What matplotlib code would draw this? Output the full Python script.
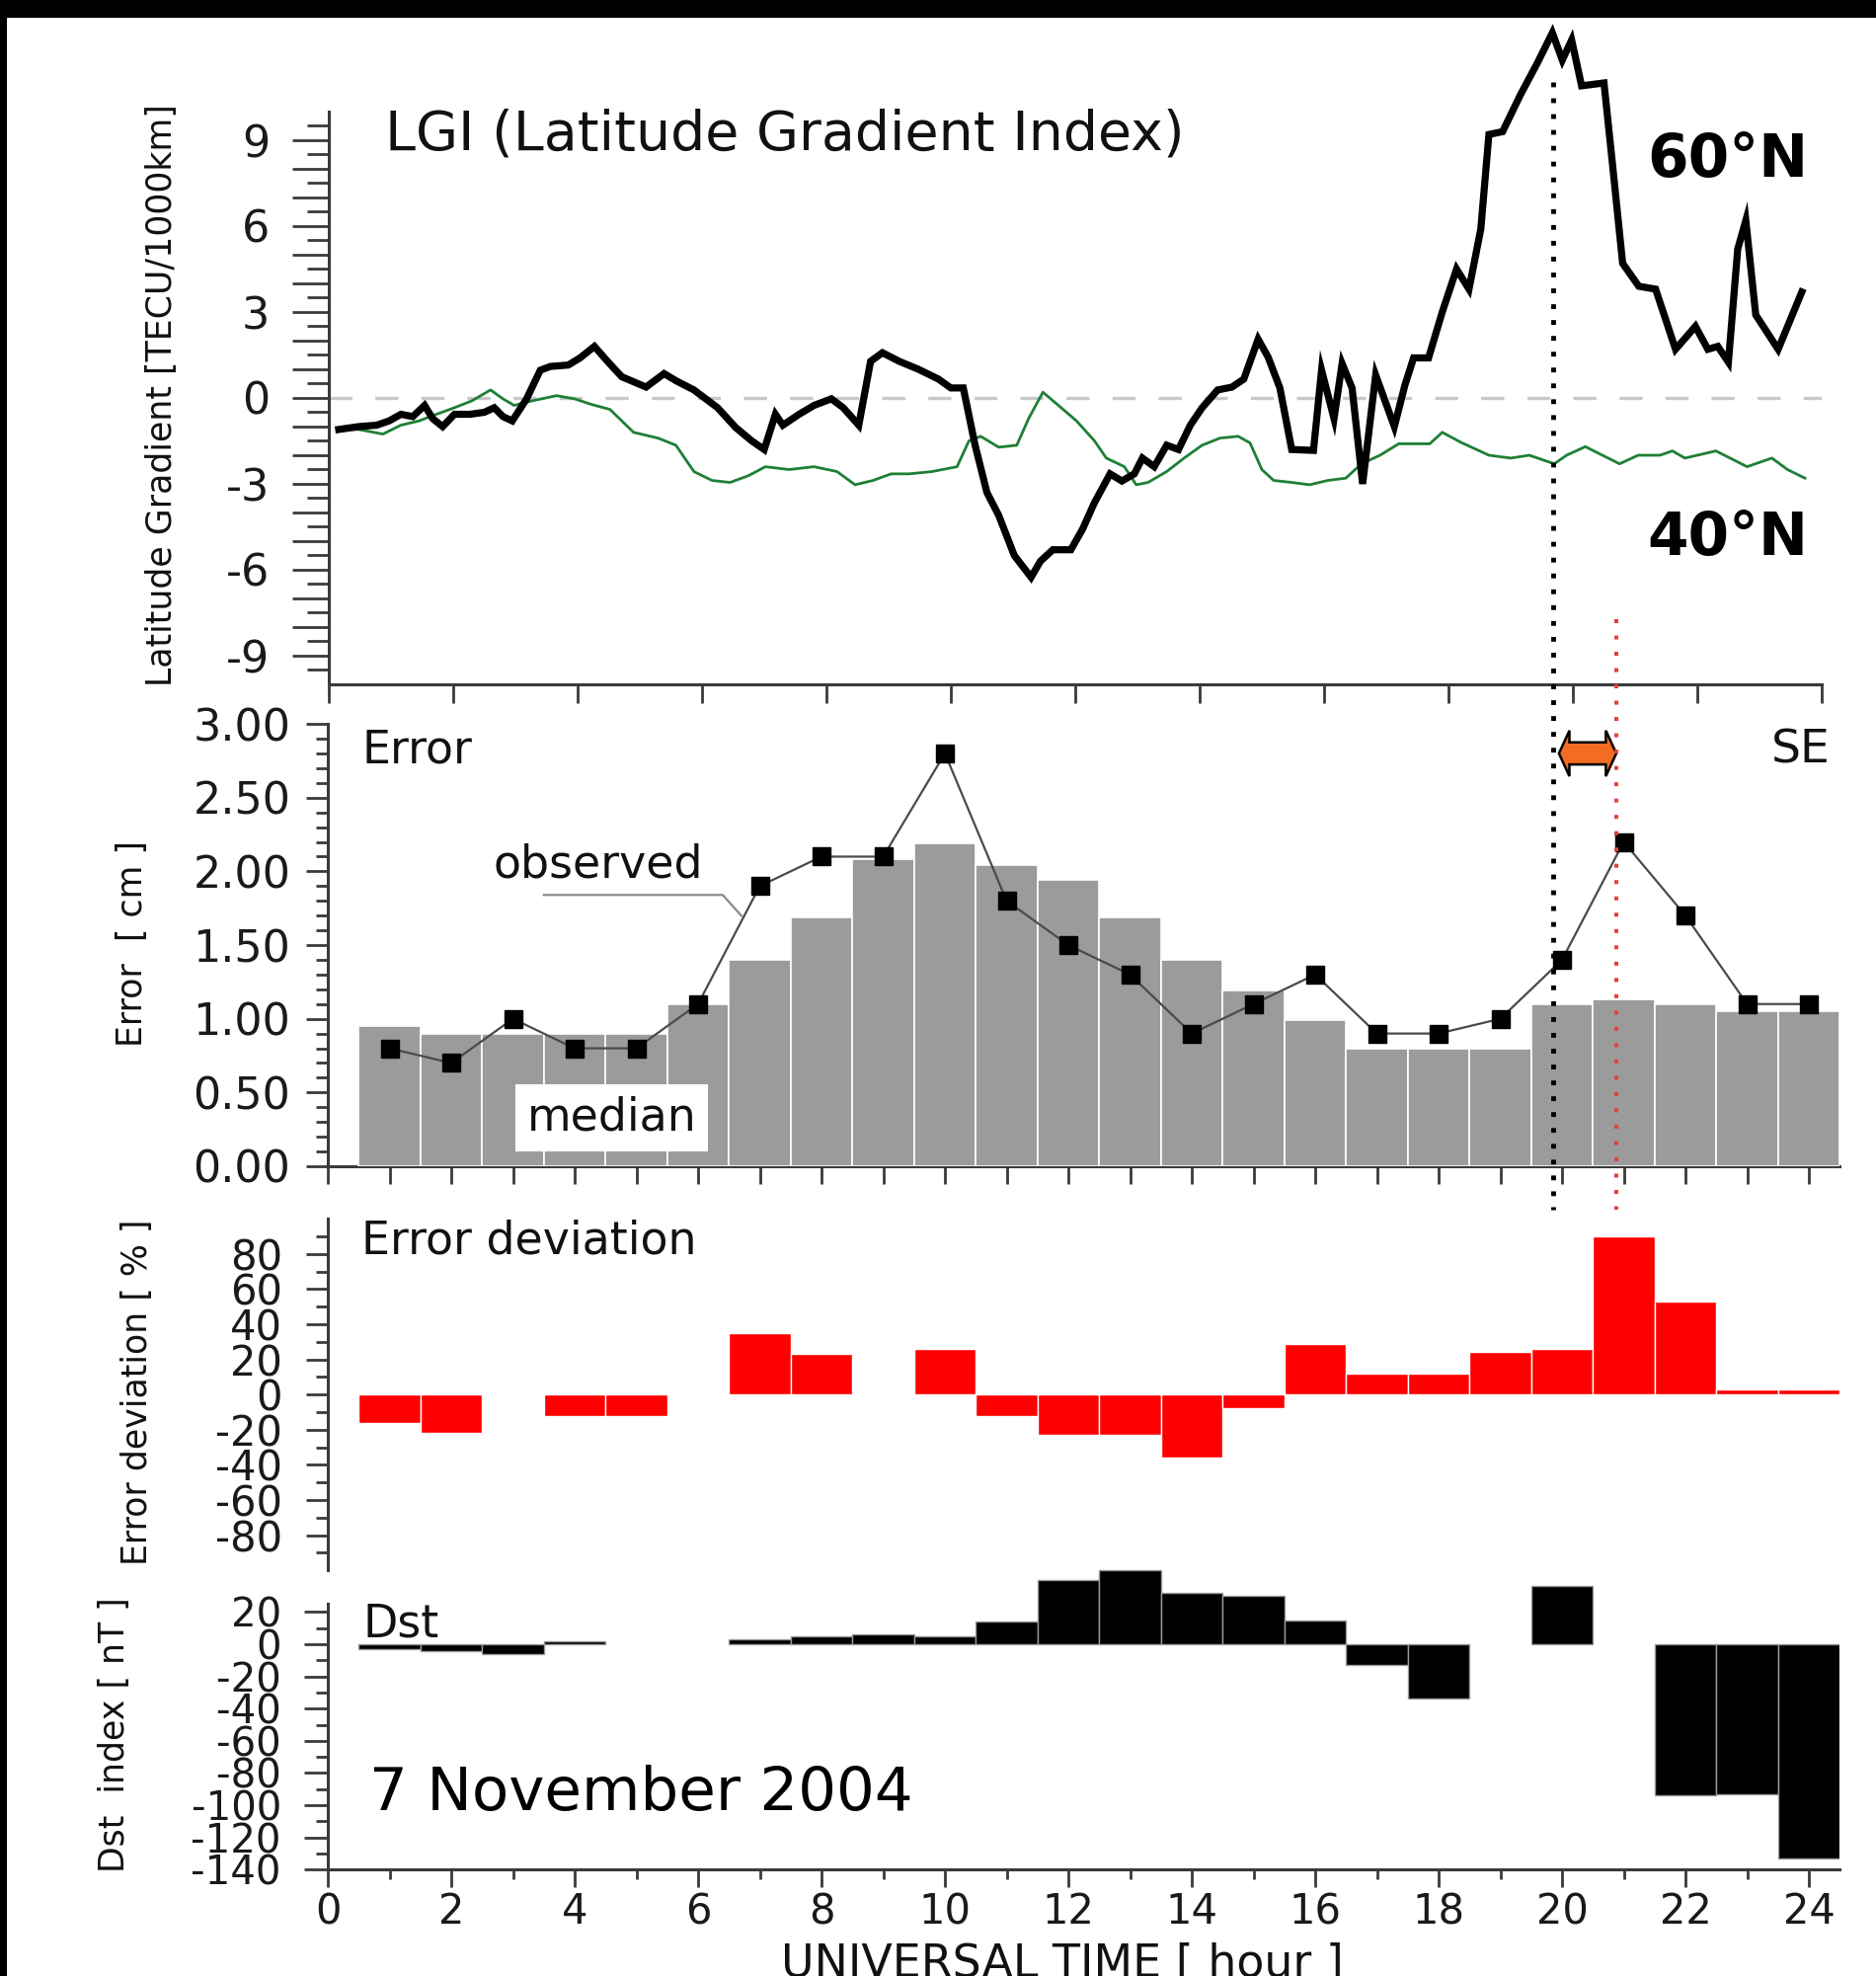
import numpy as np
import matplotlib
matplotlib.use('Agg')
import matplotlib.pyplot as plt
from matplotlib.ticker import FixedLocator, FuncFormatter
import matplotlib.transforms as mtransforms
from matplotlib.patches import Rectangle, Polygon
from matplotlib.lines import Line2D

plt.rcParams['font.family'] = ['DejaVu Sans']
plt.rcParams['axes.unicode_minus'] = False

# ---------------- data ----------------
hours = np.arange(1, 25)

lgi60_t = [0.16, 0.48, 0.77, 0.97, 1.16, 1.35, 1.54, 1.67, 1.83, 2.02, 2.27, 2.5, 2.66, 2.8, 2.95,
           3.18, 3.4, 3.56, 3.85, 4.04, 4.27, 4.48, 4.71, 5.1, 5.39, 5.6, 5.87, 6.25, 6.54, 6.8,
           7.0, 7.18, 7.3, 7.56, 7.8, 8.08, 8.27, 8.52, 8.71, 8.9, 9.17, 9.48, 9.8, 10.0, 10.2,
           10.39, 10.58, 10.77, 11.02, 11.29, 11.44, 11.64, 11.93, 12.12, 12.31, 12.56, 12.75,
           12.95, 13.08, 13.27, 13.47, 13.66, 13.85, 14.04, 14.29, 14.52, 14.71, 14.94, 15.1,
           15.29, 15.48, 15.83, 15.96, 16.16, 16.29, 16.45, 16.62, 16.83, 17.13, 17.3, 17.44,
           17.68, 17.9, 18.13, 18.33, 18.52, 18.65, 18.87, 19.16, 19.43, 19.67, 19.83, 19.98,
           20.14, 20.5, 20.64, 20.8, 21.06, 21.33, 21.65, 21.97, 22.17, 22.33, 22.5, 22.65,
           22.78, 22.94, 23.3, 23.68]
lgi60_v = [-1.1, -1.0, -0.95, -0.8, -0.57, -0.65, -0.26, -0.72, -1.0, -0.57, -0.57, -0.5, -0.34,
           -0.65, -0.8, -0.03, 0.97, 1.1, 1.15, 1.4, 1.8, 1.28, 0.74, 0.38, 0.85, 0.58, 0.28,
           -0.34, -1.03, -1.5, -1.8, -0.57, -0.95, -0.57, -0.26, -0.03, -0.34, -0.95, 1.28, 1.58,
           1.28, 1.0, 0.66, 0.35, 0.35, -1.65, -3.3, -4.1, -5.5, -6.26, -5.7, -5.3, -5.3, -4.57,
           -3.65, -2.65, -2.9, -2.65, -2.1, -2.4, -1.65, -1.8, -0.95, -0.34, 0.28, 0.38, 0.66,
           2.05, 1.43, 0.35, -1.8, -1.83, 0.97, -0.72, 1.2, 0.35, -3.0, 0.8, -1.0, 0.45, 1.4,
           1.4, 3.0, 4.5, 3.8, 5.9, 9.2, 9.3, 10.6, 11.7, 12.75, 11.8, 12.5, 10.9, 11.0, 8.1,
           4.7, 3.9, 3.8, 1.7, 2.5, 1.7, 1.8, 1.25, 5.2, 6.2, 2.9, 1.7, 3.7]

lgi40_t = [0.16, 0.48, 0.87, 1.16, 1.45, 1.73, 2.02, 2.3, 2.6, 2.8, 2.98, 3.27, 3.66, 3.95, 4.23,
           4.52, 4.9, 5.29, 5.58, 5.87, 6.16, 6.45, 6.74, 7.02, 7.4, 7.8, 8.17, 8.46, 8.75, 9.04,
           9.33, 9.7, 10.1, 10.29, 10.48, 10.77, 11.06, 11.25, 11.48, 11.73, 12.02, 12.31, 12.5,
           12.79, 12.98, 13.17, 13.47, 13.75, 14.04, 14.33, 14.62, 14.81, 15.0, 15.19, 15.48,
           15.77, 16.06, 16.35, 16.6, 16.9, 17.2, 17.7, 17.9, 18.2, 18.65, 19.0, 19.3, 19.7,
           19.9, 20.2, 20.75, 21.05, 21.4, 21.6, 21.8, 22.3, 22.8, 23.2, 23.45, 23.73]
lgi40_v = [-1.1, -1.1, -1.26, -0.95, -0.8, -0.57, -0.34, -0.1, 0.28, -0.03, -0.26, -0.1, 0.08,
           -0.03, -0.23, -0.4, -1.2, -1.4, -1.65, -2.57, -2.88, -2.95, -2.72, -2.4, -2.5, -2.4,
           -2.57, -3.03, -2.88, -2.65, -2.65, -2.57, -2.4, -1.5, -1.34, -1.72, -1.65, -0.72, 0.2,
           -0.26, -0.8, -1.5, -2.1, -2.4, -3.03, -2.95, -2.57, -2.1, -1.65, -1.4, -1.34, -1.57,
           -2.5, -2.88, -2.95, -3.03, -2.88, -2.8, -2.3, -2.0, -1.6, -1.6, -1.2, -1.55, -2.0,
           -2.1, -2.0, -2.3, -2.0, -1.7, -2.3, -2.0, -2.0, -1.85, -2.1, -1.85, -2.4, -2.1, -2.5,
           -2.8]

median_err = [0.95, 0.90, 0.90, 0.90, 0.90, 1.10, 1.40, 1.69, 2.08, 2.19, 2.04, 1.94, 1.69, 1.40,
              1.19, 0.99, 0.80, 0.80, 0.80, 1.10, 1.13, 1.10, 1.05, 1.05]
observed_err = [0.8, 0.7, 1.0, 0.8, 0.8, 1.1, 1.9, 2.1, 2.1, 2.8, 1.8, 1.5, 1.3, 0.9, 1.1, 1.3,
                0.9, 0.9, 1.0, 1.4, 2.2, 1.7, 1.1, 1.1]
err_dev = [-16, -22, np.nan, -12, -12, np.nan, 35, 23, np.nan, 26, -12, -23, -23, -36, -8, 29,
           12, 12, 24, 26, 90, 53, 3, 3]
dst = [-3, -4, -6, 2, np.nan, np.nan, 3, 5, 6, 5, 14, 40, 46, 32, 30, 15, -13, -34, np.nan, 36,
       np.nan, -94, -93, -133]

t_onset = 19.85   # black dotted marker (UT hour)
t_se = 20.88      # red dotted marker (UT hour)

# ---------------- figure ----------------
W, H = 1900, 2001
fig = plt.figure(figsize=(W / 100, H / 100), dpi=100, facecolor='white')

def fx(px):
    return px / W

def fy(py):
    return 1 - py / H

SP = '#3a3a3a'
TK = 32

def style(ax):
    ax.set_facecolor('none')
    for s in ['top', 'right']:
        ax.spines[s].set_visible(False)
    for s in ['left', 'bottom']:
        ax.spines[s].set_color(SP)
        ax.spines[s].set_linewidth(2.2)
    ax.tick_params(colors=SP, labelcolor='#1a1a1a', width=2.0, labelsize=TK)

# ---- top: LGI ----
ax1 = fig.add_axes([fx(333), fy(693), (1845 - 333) / W, (693 - 11.5) / H])
style(ax1)
ax1.set_xlim(0, 24)
ax1.set_ylim(-10, 13.5)
ax1.spines['left'].set_bounds(-10, 10)
ax1.spines['bottom'].set_bounds(0, 24)
ax1.axhline(0, color='#c8c8c8', lw=2.4, dashes=(7, 7), zorder=1)
ax1.plot(lgi40_t, lgi40_v, color='#1f7f35', lw=2.0, zorder=2)
ax1.plot(lgi60_t, lgi60_v, color='black', lw=5.2, zorder=3, solid_joinstyle='miter')
ax1.yaxis.set_major_locator(FixedLocator(list(range(-9, 10))))
ax1.yaxis.set_minor_locator(FixedLocator([k + 0.5 for k in range(-10, 10)]))
ax1.yaxis.set_major_formatter(FuncFormatter(lambda v, p: f'{int(round(v))}' if int(round(v)) % 3 == 0 else ''))
ax1.tick_params(axis='y', which='major', length=27, pad=16, labelsize=32)
ax1.tick_params(axis='y', which='minor', length=16, width=2.0, colors=SP)
ax1.xaxis.set_major_locator(FixedLocator(list(range(0, 25, 2))))
ax1.tick_params(axis='x', which='major', length=14, labelbottom=False)
ax1.text(0.9, 9.2, 'LGI (Latitude Gradient Index)', fontsize=40, ha='left', va='center', color='#111')
ax1.text(23.78, 8.3, '60°N', fontsize=43, fontweight='bold', ha='right', va='center')
ax1.text(23.78, -4.9, '40°N', fontsize=43, fontweight='bold', ha='right', va='center')

# ---- middle: Error ----
ax2 = fig.add_axes([fx(332), fy(1181), 1531.25 / W, (1181 - 725.6) / H])
style(ax2)
ax2.set_xlim(0, 24.5)
ax2.set_ylim(0, 3.05)
ax2.spines['left'].set_bounds(0, 3.0)
ax2.spines['bottom'].set_bounds(0, 24.5)
ax2.spines['bottom'].set_zorder(0.5)
ax2.bar(hours, median_err, width=1.0, color='#9b9b9b', edgecolor='white', linewidth=1.2, zorder=2)
ax2.plot(hours, observed_err, color='#4a4a4a', lw=1.6, marker='s', ms=13,
         mfc='black', mec='black', zorder=4)
ax2.yaxis.set_major_locator(FixedLocator([0, 0.5, 1.0, 1.5, 2.0, 2.5, 3.0]))
ax2.yaxis.set_minor_locator(FixedLocator([k / 10 for k in range(0, 31) if k % 5]))
ax2.yaxis.set_major_formatter(FuncFormatter(lambda v, p: f'{v:.2f}'))
ax2.tick_params(axis='y', which='major', length=16, pad=11)
ax2.tick_params(axis='y', which='minor', length=8.5, width=2.0, colors=SP)
ax2.xaxis.set_major_locator(FixedLocator(list(range(0, 25))))
ax2.tick_params(axis='x', which='major', length=13, labelbottom=False)
ax2.text(0.55, 2.82, 'Error', fontsize=33, ha='left', va='center', color='#111')
ax2.text(24.35, 2.82, 'SE', fontsize=34, ha='right', va='center', color='#111')
ax2.text(6.08, 2.04, 'observed', fontsize=33, ha='right', va='center', color='#111')
ax2.plot([3.5, 6.4, 6.7], [1.84, 1.84, 1.70], color='#8a8a8a', lw=1.6, zorder=3)
ax2.text(4.6, 0.33, 'median', fontsize=33, ha='center', va='center', color='#111', zorder=5,
         bbox=dict(boxstyle='square,pad=0.25', fc='white', ec='none'))

# orange double arrow between the two event times
y0, bh, hh, hl = 2.80, 0.075, 0.155, 0.17
xl, xr = t_onset + 0.1, t_se
arrow = Polygon([(xl, y0), (xl + hl, y0 + hh), (xl + hl, y0 + bh), (xr - hl, y0 + bh),
                 (xr - hl, y0 + hh), (xr, y0), (xr - hl, y0 - hh), (xr - hl, y0 - bh),
                 (xl + hl, y0 - bh), (xl + hl, y0 - hh)], closed=True,
                fc='#f36c21', ec='black', lw=1.8, zorder=6)
ax2.add_patch(arrow)

# ---- Error deviation ----
ax3 = fig.add_axes([fx(332), fy(1590.2), 1531.25 / W, (1590.2 - 1234.2) / H])
style(ax3)
ax3.set_xlim(0, 24.5)
ax3.set_ylim(-100, 100)
ax3.spines['left'].set_bounds(-100, 100)
ax3.spines['bottom'].set_visible(False)
ax3.bar(hours, err_dev, width=1.0, color='#ff0000', edgecolor='white', linewidth=1.0, zorder=2)
ax3.yaxis.set_major_locator(FixedLocator(list(range(-80, 81, 20))))
ax3.yaxis.set_minor_locator(FixedLocator(list(range(-90, 91, 20))))
ax3.tick_params(axis='y', which='major', length=16, pad=17, labelsize=30)
ax3.tick_params(axis='y', which='minor', length=9, width=2.0, colors=SP)
ax3.tick_params(axis='x', which='both', bottom=False, labelbottom=False)
ax3.text(0.55, 87, 'Error deviation', fontsize=33, ha='left', va='center', color='#111')

# ---- Dst ----
ax4 = fig.add_axes([fx(332), fy(1893.2), 1531.25 / W, (1893.2 - 1583.5) / H])
style(ax4)
ax4.set_xlim(0, 24.5)
ax4.set_ylim(-140, 50)
ax4.spines['left'].set_bounds(-140, 25)
ax4.spines['bottom'].set_bounds(0, 24.5)
ax4.bar(hours, dst, width=1.0, color='black', edgecolor='#9a9a9a', linewidth=1.0, zorder=2)
ax4.yaxis.set_major_locator(FixedLocator(list(range(-140, 21, 20))))
ax4.yaxis.set_minor_locator(FixedLocator(list(range(-130, 11, 20))))
ax4.tick_params(axis='y', which='major', length=17, pad=17, labelsize=29)
ax4.tick_params(axis='y', which='minor', length=9, width=2.0, colors=SP)
ax4.xaxis.set_major_locator(FixedLocator(list(range(0, 25, 2))))
ax4.xaxis.set_minor_locator(FixedLocator(list(range(1, 25, 2))))
ax4.tick_params(axis='x', which='major', length=13, pad=3, labelsize=30)
ax4.tick_params(axis='x', which='minor', length=7, width=2.0, colors=SP)
ax4.text(0.56, 12, 'Dst', fontsize=33, ha='left', va='center', color='#111')
ax4.text(0.68, -93, '7 November 2004', fontsize=44, ha='left', va='center', color='black')

# ---- axis titles ----
fig.text(fx(164), fy(400), 'Latitude Gradient [TECU/1000km]', rotation=90, ha='center',
         va='center', fontsize=25, color='#111')
fig.text(fx(134), fy(955), 'Error  [ cm ]', rotation=90, ha='center', va='center',
         fontsize=25, color='#111')
fig.text(fx(139), fy(1410), 'Error deviation [ % ]', rotation=90, ha='center', va='center',
         fontsize=25, color='#111')
fig.text(fx(116), fy(1757), 'Dst  index [ nT ]', rotation=90, ha='center', va='center',
         fontsize=25, color='#111')
fig.text(fx(1076), fy(2002), 'UNIVERSAL TIME [ hour ]', ha='center', va='baseline',
         fontsize=33, color='#111')

# ---- event lines across panels ----
trans = mtransforms.blended_transform_factory(ax4.transData, fig.transFigure)
fig.add_artist(Line2D([t_onset, t_onset], [fy(83), fy(1225)], transform=trans, color='black',
                      lw=3.5, linestyle=(0, (1, 2.3)), dash_capstyle='butt', zorder=10))
fig.add_artist(Line2D([t_se, t_se], [fy(627), fy(1225)], transform=trans, color='#e8403a',
                      lw=2.9, linestyle=(0, (1, 3.1)), dash_capstyle='butt', zorder=10))

# ---- black frame ----
fig.add_artist(Rectangle((0, fy(18)), 1, 18 / H, transform=fig.transFigure, fc='black',
                         ec='none', zorder=20))
fig.add_artist(Rectangle((0, 0), 7 / W, 1, transform=fig.transFigure, fc='black', ec='none',
                         zorder=20))

fig.savefig('out.png', dpi=100, facecolor='white')
